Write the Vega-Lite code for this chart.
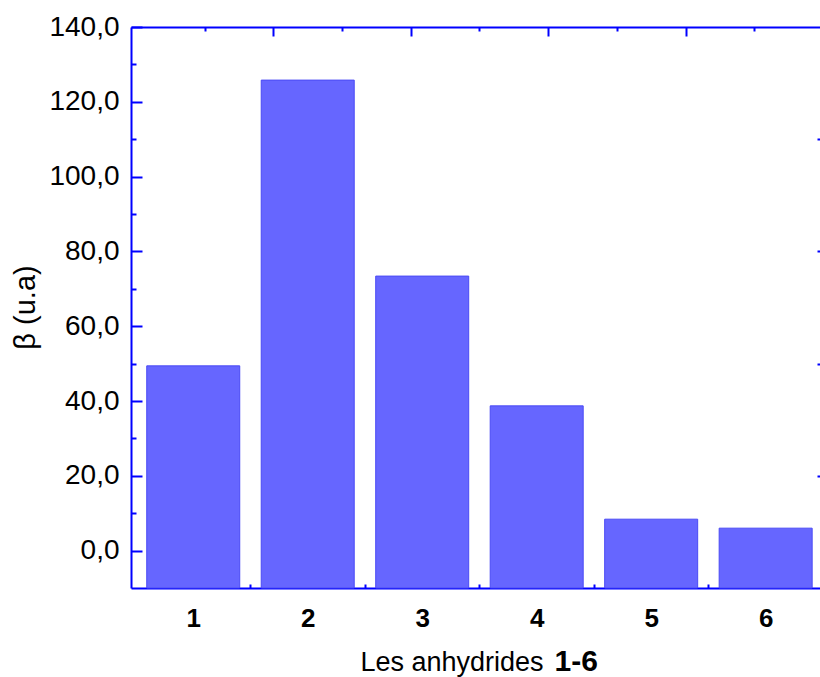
{
  "$schema": "https://vega.github.io/schema/vega-lite/v6.json",
  "autosize": "none",
  "width": 689,
  "height": 561,
  "padding": {"left": 131, "top": 27, "right": 0, "bottom": 89},
  "background": "white",
  "config": {
    "view": {"stroke": null},
    "font": "Liberation Sans",
    "axis": {
      "domainColor": "#0000ff",
      "domainWidth": 2,
      "tickColor": "#0000ff",
      "tickWidth": 2,
      "grid": false,
      "zindex": 1,
      "labelColor": "black",
      "titleColor": "black",
      "labelFont": "Liberation Sans",
      "titleFont": "Liberation Sans"
    }
  },
  "data": {
    "values": [
      {"n": 1, "v": 49.4},
      {"n": 2, "v": 125.8},
      {"n": 3, "v": 73.4},
      {"n": 4, "v": 38.7},
      {"n": 5, "v": 8.4},
      {"n": 6, "v": 6.0}
    ]
  },
  "resolve": {"axis": {"x": "independent", "y": "independent"}},
  "layer": [
    {
      "mark": {"type": "bar", "width": 93, "fill": "#6666ff", "stroke": "#4a4af5", "strokeWidth": 1},
      "encoding": {
        "x": {
          "field": "n", "type": "quantitative",
          "scale": {"domain": [0.5, 6.431], "nice": false, "zero": false},
          "axis": {
            "orient": "bottom", "values": [1, 2, 3, 4, 5, 6], "tickSize": -10,
            "labelFontSize": 26, "labelFontWeight": "bold", "labelPadding": 27,
            "labelFlush": false, "labelExpr": "format(datum.value, 'd')",
            "title": "Les anhydrides", "titleFontSize": 27, "titleFontWeight": "normal",
            "titleX": 229, "titleY": 82, "titleAlign": "left", "titleBaseline": "alphabetic", "titleAnchor": null
          }
        },
        "y": {
          "field": "v", "type": "quantitative",
          "scale": {"domain": [-10, 140], "nice": false, "zero": false},
          "axis": {
            "orient": "left", "values": [0, 20, 40, 60, 80, 100, 120, 140], "tickSize": -11,
            "labelFontSize": 28, "labelPadding": 23, "labelFlush": false,
            "labelExpr": "replace(format(datum.value, '.1f'), '.', ',')",
            "title": "β (u.a)", "titleFontSize": 29, "titleFontWeight": "normal",
            "titleAngle": -90, "titleX": -106, "titleY": 280, "titleAlign": "center", "titleBaseline": "middle"
          }
        },
        "y2": {"datum": -10}
      }
    },
    {
      "mark": {"type": "point", "opacity": 0},
      "encoding": {
        "x": {
          "field": "n", "type": "quantitative",
          "axis": {
            "orient": "bottom", "values": [1.5, 2.5, 3.5, 4.5, 5.5], "tickSize": -4,
            "domain": false, "labels": false,
            "title": "1-6", "titleFontSize": 30, "titleFontWeight": "bold",
            "titleX": 423, "titleY": 82, "titleAlign": "left", "titleBaseline": "alphabetic", "titleAnchor": null
          }
        },
        "y": {
          "field": "v", "type": "quantitative",
          "axis": {
            "orient": "left", "values": [10, 30, 50, 70, 90, 110, 130], "tickSize": -5,
            "domain": false, "labels": false, "title": null
          }
        }
      }
    },
    {
      "mark": {"type": "point", "opacity": 0},
      "encoding": {
        "x": {
          "field": "n", "type": "quantitative",
          "axis": {
            "orient": "top", "values": [1.7, 2.9, 4.1, 5.3], "tickSize": -9,
            "labels": false, "title": null
          }
        },
        "y": {
          "field": "v", "type": "quantitative",
          "axis": {
            "orient": "right", "values": [20, 50, 80, 110], "tickSize": -3,
            "domain": false, "labels": false, "title": null
          }
        }
      }
    },
    {
      "mark": {"type": "point", "opacity": 0},
      "encoding": {
        "x": {
          "field": "n", "type": "quantitative",
          "axis": {
            "orient": "top", "values": [1.1, 2.3, 3.5, 4.7, 5.9], "tickSize": -4,
            "domain": false, "labels": false, "title": null
          }
        },
        "y": {"field": "v", "type": "quantitative", "axis": null}
      }
    }
  ]
}
